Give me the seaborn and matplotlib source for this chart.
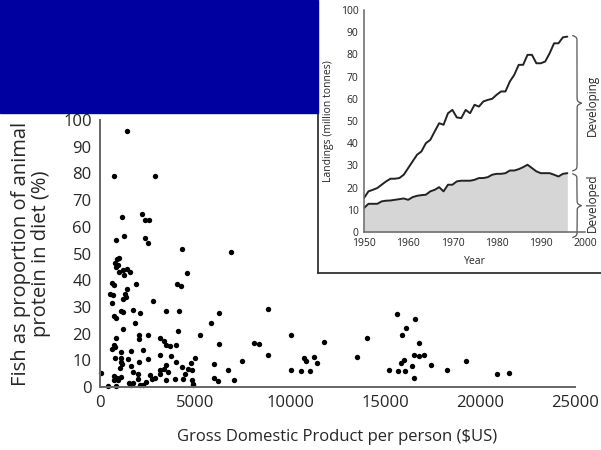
import numpy as np
import matplotlib
matplotlib.use("Agg")
import matplotlib.pyplot as plt
from matplotlib.patches import Rectangle
import seaborn as sns

# main scatter: GDP per person vs fish share of animal protein
gdp = [1404, 737, 2912, 1175, 2228, 2368, 2561, 842, 1263, 2386, 2544, 4298,
       1017, 877, 789, 929, 842, 1228, 1403, 1579, 1263, 1000, 4597, 614,
       737, 1895, 4070, 4280, 1438, 1315, 526, 666, 614, 1228, 1368, 2772,
       1105, 1193, 1754, 2105, 3473, 4175, 737, 842, 1842, 1193, 2052, 2052,
       2544, 4123, 3157, 3368, 859, 737, 649, 789, 1087, 1614, 2263, 3491,
       3666, 4017, 789, 1122, 1473, 1087, 1175, 2544, 3157, 3736, 2070, 1614,
       1070, 35, 1719, 2614, 2912, 2737, 3140, 3175, 3350, 3561, 3491, 4017,
       4333, 4631, 4456, 3929, 3491, 754, 877, 1087, 754, 929, 2017, 2421,
       1544, 1754, 2105, 2245, 1614, 439, 842, 2017,
       6895, 8860, 6280, 5842, 5263, 6280, 8088, 8368, 8860, 4982, 4789, 4824,
       6017, 7491, 6719, 4350, 4824, 4912, 4877, 6017, 6228, 7070,
       10030, 11790, 14070, 15610, 16560, 16090, 15910, 16790, 13510, 10740,
       10860, 11250, 11440, 10030, 10600, 11050, 15190, 15700, 16050, 15860,
       16000, 16440, 16530, 16790, 17050, 17400, 16530, 18250, 19250, 20910,
       21510]
fish = [96, 79, 79, 63.5, 64.8, 62.4, 62.4, 55.1, 56.5, 55.9, 53.9, 51.5,
        48.5, 47.8, 46.5, 45.6, 45, 43.8, 44.1, 42.9, 41.9, 43.1, 42.8, 38.8,
        38.1, 38.5, 38.5, 37.8, 36.6, 35, 35, 34.4, 31.6, 32.8, 33.8, 32.3,
        28.5, 28.1, 29, 27.8, 28.5, 28.4, 26.5, 25.9, 24, 21.6, 19.4, 18.1,
        19.6, 20.9, 18.5, 17.1, 18.5, 15.6, 14.4, 15, 13.1, 13.5, 14, 15.6,
        15.3, 15.9, 10.9, 11, 10.6, 9.4, 8.5, 10.3, 11.9, 11.5, 9.4, 7.8,
        7.1, 5.4, 5.6, 4.4, 3.4, 3.1, 4.75, 6.25, 6.9, 5.6, 8.1, 9.4,
        7.5, 6.9, 4.75, 3.1, 2.5, 4, 3.4, 3.75, 2.5, 2.5, 3.1, 1.9,
        1.6, 1.5, 0.9, 0.9, 0.75, 0.4, 0.4, 5,
        50.4, 29.4, 27.9, 24.1, 19.6, 16, 16.4, 16, 12.1, 11, 9, 6.25,
        8.75, 9.75, 6.25, 2.9, 2.5, 1.25, 0.6, 3.4, 2.1, 2.5,
        19.4, 16.9, 18.4, 27.5, 25.6, 22.1, 19.4, 16.5, 11.25, 10.75,
        9.75, 11.25, 9, 6.4, 6.1, 5.9, 6.4, 5.9, 5.9, 9.1,
        10, 7.75, 12.1, 11.6, 12.1, 8.4, 3.4, 6.4, 9.9, 4.75,
        5.4]

# inset: world landings (million tonnes)
years = list(range(1950, 1997))
total = [15.3, 18.3, 19, 19.8, 21.3, 22.8, 24, 24, 24.3, 25.8,
         28.8, 31.8, 34.8, 36.3, 40, 41.5, 45.3, 49, 48.3, 53.5,
         55, 51.6, 51.3, 55, 53.5, 57.3, 56.5, 58.8, 59.5, 60,
         61.8, 63.3, 63.3, 67.8, 70.8, 75.3, 75.3, 79.8, 79.8, 76,
         76, 76.8, 80.5, 85, 85, 87.7, 88]
developed = [10.8, 12.7, 12.7, 12.7, 13.8, 14.1, 14.2, 14.5, 14.8, 15.1,
             14.5, 15.7, 16.3, 16.6, 16.8, 18.3, 19, 20.2, 18.3, 21.3,
             21.3, 22.8, 23.1, 23.1, 23.1, 23.5, 24.3, 24.3, 24.7, 25.8,
             26.2, 26.2, 26.5, 27.7, 27.7, 28.3, 29.2, 30.3, 28.8, 27.3,
             26.5, 26.5, 26.5, 25.8, 25, 26.2, 26.5]

sns.set_style("white")
plt.rcParams["font.family"] = ["Open Sans", "DejaVu Sans"]

W, H = 601, 450
fig = plt.figure(figsize=(W / 100, H / 100), dpi=100)


def frac(x0, y0, x1, y1):
    # pixel box -> figure fraction [left, bottom, width, height]
    return [x0 / W, 1 - y1 / H, (x1 - x0) / W, (y1 - y0) / H]


grey = "#666666"

# ---- main scatter ----
ax = fig.add_axes(frac(100, 120, 575, 387))
sns.scatterplot(x=gdp, y=fish, ax=ax, color="black", s=15, linewidth=0,
                clip_on=False)
ax.set_xlim(0, 25000)
ax.set_ylim(0, 100)
ax.set_xticks(range(0, 25001, 5000))
ax.set_yticks(range(0, 101, 10))
for s in ["top", "right"]:
    ax.spines[s].set_visible(False)
for s in ["left", "bottom"]:
    ax.spines[s].set_color(grey)
    ax.spines[s].set_linewidth(1.4)
ax.tick_params(direction="in", length=5, width=1.2, color=grey,
               labelsize=12, pad=6)
ax.set_xlabel("Gross Domestic Product per person ($US)", fontsize=12,
              labelpad=13)
ax.set_ylabel("Fish as proportion of animal\nprotein in diet (%)",
              fontsize=14.5, linespacing=1.0)
ax.yaxis.set_label_coords(-0.103, 0.5)

# ---- inset frame ----
box = fig.add_axes(frac(318, 0, 601, 273))
box.set_facecolor("white")
box.set_xticks([])
box.set_yticks([])
for s in ["top", "right"]:
    box.spines[s].set_visible(False)
for s in ["left", "bottom"]:
    box.spines[s].set_color("#333333")
    box.spines[s].set_linewidth(1.3)

# ---- inset landings ----
ins = fig.add_axes(frac(364, 10, 585, 232))
ins.set_facecolor("none")
ins.fill_between(years, developed, color="#d6d6d6", linewidth=0)
sns.lineplot(x=years, y=total, ax=ins, color="#222222", linewidth=1.4)
sns.lineplot(x=years, y=developed, ax=ins, color="#222222", linewidth=1.4)
ins.set_xlim(1950, 2000)
ins.set_ylim(0, 100)
ins.set_xticks(range(1950, 2001, 10))
ins.set_yticks(range(0, 101, 10))
for s in ["top", "right"]:
    ins.spines[s].set_visible(False)
for s in ["left", "bottom"]:
    ins.spines[s].set_color(grey)
    ins.spines[s].set_linewidth(1.1)
ins.tick_params(axis="x", direction="in", length=4, width=1, color=grey,
                labelsize=7.5, pad=4.5)
ins.tick_params(axis="y", direction="out", length=3, width=1, color=grey,
                labelsize=7.5, pad=1)
ins.set_xlabel("Year", fontsize=7.5, labelpad=5)
ins.set_ylabel("Landings (million tonnes)", fontsize=7.5, labelpad=5)


def brace(axis, x0, y0, y1, width, beta=2.5):
    ys = np.linspace(y0, y1, 301)
    mid = (y0 + y1) / 2
    lower = ys[ys <= mid]
    v = 1 / (1 + np.exp(-beta * (lower - y0))) + \
        1 / (1 + np.exp(-beta * (lower - mid)))
    v = np.concatenate([v, v[::-1][1:]])
    ys = np.concatenate([lower, (y0 + y1 - lower)[::-1][1:]])
    axis.plot(x0 + (v - 0.5) * width, ys, color="#555555", lw=0.9,
              clip_on=False)


last_dev = developed[-1]
last_tot = total[-1]
brace(ins, 1997.2, -2.5, last_dev - 0.3, 2.0)
brace(ins, 1997.2, last_dev + 1.0, last_tot + 0.5, 2.0)
ins.text(2000.3, last_dev / 2, "Developed", rotation=90, fontsize=8.5,
         ha="left", va="center", clip_on=False)
ins.text(2000.3, (last_dev + last_tot) / 2, "Developing", rotation=90,
         fontsize=8.5, ha="left", va="center", clip_on=False)

# blue block top-left
fig.add_artist(Rectangle((0, 1 - 113 / H), 318 / W, 113 / H,
                         transform=fig.transFigure, color="#0000a0",
                         zorder=5))

fig.savefig("out.png", dpi=100)
